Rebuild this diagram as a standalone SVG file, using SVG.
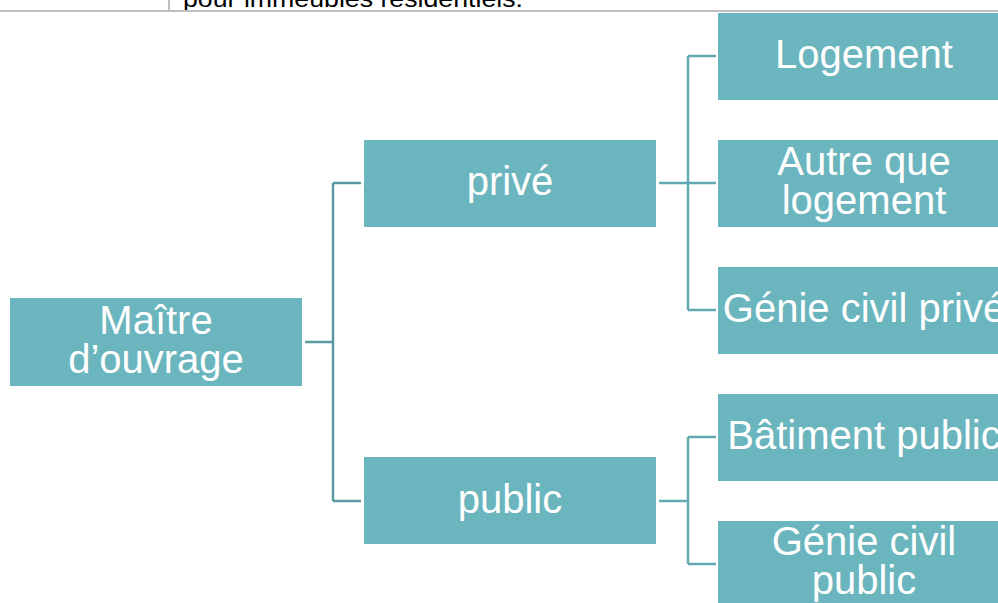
<svg xmlns="http://www.w3.org/2000/svg" width="998" height="603" viewBox="0 0 998 603">
<defs>
<style>
.box{fill:#6bb5be;}
.t{font-family:"Liberation Sans",Arial,sans-serif;font-size:40px;fill:#ffffff;text-anchor:middle;}
.cl{fill:none;stroke:#5a9aa1;stroke-width:2.5;}
.cr{fill:none;stroke:#63a9b1;stroke-width:2.5;}
</style>
<clipPath id="topclip"><rect x="0" y="0" width="998" height="10"/></clipPath>
</defs>
<rect x="0" y="0" width="998" height="603" fill="#ffffff"/>
<g id="header">
<line x1="169" y1="0" x2="169" y2="11" stroke="#bfbfbf" stroke-width="2"/>
<line x1="0" y1="11" x2="998" y2="11" stroke="#bfbfbf" stroke-width="2"/>
<text x="183" y="6.5" clip-path="url(#topclip)" font-family="Liberation Sans,Arial,sans-serif" font-size="24" fill="#000000" textLength="340" lengthAdjust="spacingAndGlyphs">pour immeubles résidentiels.</text>
</g>
<g id="connectors">
<path class="cl" d="M305 342H333M333 183V501M333 183H361M333 501H361"/>
<path class="cr" d="M659 183H716M688 56V310M688 56H716M688 310H716"/>
<path class="cr" d="M659 501H688M688 437V564M688 437H716M688 564H716"/>
</g>
<g id="maitre"><rect class="box" x="10" y="298" width="292" height="88"/><text class="t" x="156" y="334">Maître</text><text class="t" x="156" y="373">d’ouvrage</text></g>
<g id="prive"><rect class="box" x="364" y="140" width="292" height="87"/><text class="t" x="510" y="195">privé</text></g>
<g id="public"><rect class="box" x="364" y="457" width="292" height="87"/><text class="t" x="510" y="513">public</text></g>
<g id="logement"><rect class="box" x="718" y="13" width="292" height="87"/><text class="t" x="864" y="68">Logement</text></g>
<g id="autre"><rect class="box" x="718" y="140" width="292" height="87"/><text class="t" x="864" y="175">Autre que</text><text class="t" x="864" y="214">logement</text></g>
<g id="genie-prive"><rect class="box" x="718" y="267" width="292" height="87"/><text class="t" x="864" y="322">Génie civil privé</text></g>
<g id="batiment"><rect class="box" x="718" y="394" width="292" height="87"/><text class="t" x="864" y="449">Bâtiment public</text></g>
<g id="genie-public"><rect class="box" x="718" y="521" width="292" height="87"/><text class="t" x="864" y="555">Génie civil</text><text class="t" x="864" y="594">public</text></g>
</svg>
